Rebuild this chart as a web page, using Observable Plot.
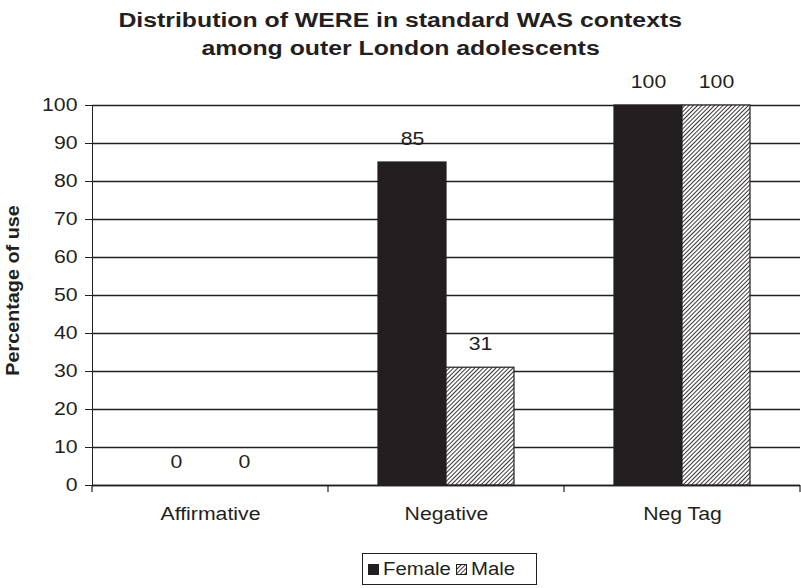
<!DOCTYPE html>
<html><head><meta charset="utf-8">
<script src="https://cdn.jsdelivr.net/npm/d3@7"></script>
<script src="https://cdn.jsdelivr.net/npm/@observablehq/plot@0.6"></script>
<style>
body{margin:0;background:#fff;font-family:"Liberation Sans",Arial,sans-serif;color:#231f20;width:801px;overflow:hidden}
#title{height:62px;box-sizing:border-box;padding-top:6px;text-align:center;font-weight:bold;font-size:20px;line-height:28px}
#title span{display:inline-block;transform:scaleX(1.24)}
#legend-wrap{margin-top:13px;padding-left:362px;height:32px}
</style></head><body>
<svg width="0" height="0" style="position:absolute">
  <defs>
    <pattern id="hatch" width="3" height="3" patternUnits="userSpaceOnUse" patternTransform="rotate(45)">
      <rect width="3" height="3" fill="#ffffff"></rect>
      <line x1="0" y1="0" x2="0" y2="3" stroke="#231f20" stroke-width="1.8"></line>
    </pattern>
  </defs>
</svg>
<div id="title"><span>Distribution of WERE in standard WAS contexts</span><br><span>among outer London adolescents</span></div>
<div id="chart"></div>
<div id="legend-wrap"></div>
<script>
const categories = ["Affirmative", "Negative", "Neg Tag"];
const series = ["Female", "Male"];
const female = [0, 85, 100];
const male = [0, 31, 100];
const yTicks = [0, 10, 20, 30, 40, 50, 60, 70, 80, 90, 100];
const yLabel = "Percentage of use";
const seriesFills = ["#231f20", "url(#hatch)"];

const rows = categories.flatMap((c, i) => [
  {category: c, sex: series[0], value: female[i]},
  {category: c, sex: series[1], value: male[i]}
]);

const ink = "#231f20";
const font = "'Liberation Sans', Arial, sans-serif";

function stretch(root, k) {
  d3.select(root).selectAll("text").each(function() {
    if (this.querySelector("tspan") || this.hasAttribute("textLength")) return;
    const len = this.getComputedTextLength();
    if (len > 0) {
      this.setAttribute("textLength", (len * k).toFixed(2));
      this.setAttribute("lengthAdjust", "spacingAndGlyphs");
    }
  });
}

const plot = Plot.plot({
  width: 801,
  height: 478,
  marginLeft: 91,
  marginRight: 0,
  marginTop: 43,
  marginBottom: 55,
  style: {fontFamily: font, fontSize: "18px", color: ink, background: "white", overflow: "visible"},
  fx: {domain: categories, padding: 0, label: null, tickSize: 0, tickPadding: 22},
  x: {domain: series, paddingInner: 0, paddingOuter: 0.715, axis: null},
  y: {domain: [0, 100], ticks: yTicks, tickSize: 7, tickPadding: 8, label: yLabel, labelAnchor: "center", labelArrow: "none", labelOffset: 86, line: true},
  color: {domain: series, range: seriesFills},
  marks: [
    Plot.ruleY(yTicks, {stroke: ink, strokeWidth: 1.3}),
    Plot.barY(rows, {fx: "category", x: "sex", y: "value", fill: "sex", stroke: ink, strokeWidth: 1.2}),
    Plot.text(rows, {fx: "category", x: "sex", y: "value", text: d => String(d.value), dy: -23, fontSize: 18, fill: ink}),
    Plot.ruleY([0], {stroke: ink, strokeWidth: 1.6})
  ]
});

// boundary ticks on the category axis, from the fx scale
const fxs = plot.scale("fx");
const ys = plot.scale("y");
const y0 = ys.apply(0);
const bounds = categories.map(c => fxs.apply(c)).concat([fxs.apply(categories[categories.length - 1]) + fxs.bandwidth]);
const svg = d3.select(plot);
svg.append("g").attr("stroke", ink).attr("stroke-width", 1.2)
  .selectAll("line").data(bounds).join("line")
  .attr("x1", d => d).attr("x2", d => d).attr("y1", y0).attr("y2", y0 + 7);
svg.selectAll('g[aria-label="y-axis label"]').attr("font-weight", "bold").attr("font-size", 18);
svg.selectAll('g[aria-label="y-axis line"]').attr("stroke-width", 1.6);

document.getElementById("chart").append(plot);
svg.selectAll('g[aria-label="y-axis label"] text').each(function() {
  const len = this.getComputedTextLength();
  this.setAttribute("textLength", (len * 1.1).toFixed(2));
  this.setAttribute("lengthAdjust", "spacingAndGlyphs");
  this.setAttribute("x", 5);
});
stretch(plot, 1.18);

// legend (svg, same hatch pattern)
const lsvg = d3.select("#legend-wrap").append("svg").attr("width", 176).attr("height", 33)
  .attr("font-family", font).attr("font-size", 18).attr("fill", ink);
lsvg.append("rect").attr("x", 0.5).attr("y", 0.5).attr("width", 174).attr("height", 31).attr("fill", "white").attr("stroke", ink);
const lx = [6, 94];
series.forEach((s, i) => {
  lsvg.append("rect").attr("x", lx[i] + 0.5).attr("y", 11.5).attr("width", 10).attr("height", 10)
    .attr("fill", seriesFills[i]).attr("stroke", ink);
  lsvg.append("text").attr("x", lx[i] + 15).attr("y", 16).attr("dy", "0.35em").text(s);
});
stretch(lsvg.node(), 1.13);
</script>
</body></html>
